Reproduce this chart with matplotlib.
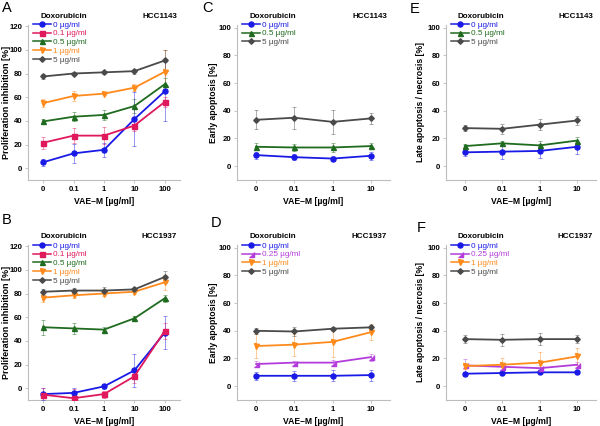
import numpy as np
import matplotlib
matplotlib.use("Agg")
import matplotlib.pyplot as plt
from matplotlib.lines import Line2D

plt.rcParams['font.family'] = ['Liberation Sans', 'DejaVu Sans']

# x categories
vae_5 = ['0', '0.1', '1', '10', '100']
vae_4 = ['0', '0.1', '1', '10']

# colours / markers per doxorubicin dose
col = {'0': '#1a1ae6', '0.1': '#e0185c', '0.5': '#1f6b1f', '0.25': '#b43cdc',
       '1': '#ff8a1c', '5': '#4a4a4a'}
tri = [(-1, -1), (1, -1), (1, 1)]
mk = {'0': 'o', '0.1': 's', '0.5': '^', '0.25': tri, '1': 'v', '5': 'D'}

# Panel A  - HCC1143 proliferation inhibition
A_mean = {'0': [5, 12.5, 15.5, 41.5, 65],
          '0.1': [21.5, 27.5, 27.5, 36, 56],
          '0.5': [39.5, 43.5, 45, 52.5, 71],
          '1': [55, 61, 63, 68, 81.5],
          '5': [77.5, 80, 81, 82, 91]}
A_err = {'0': [3, 8, 6, 23, 25],
         '0.1': [5, 6.5, 7, 5, 4],
         '0.5': [2, 4, 4, 6, 5],
         '1': [3.5, 4, 1.5, 3, 18],
         '5': [2.5, 1.5, 1, 2, 9]}

# Panel B - HCC1937 proliferation inhibition
B_mean = {'0': [-5, -4, 1.5, 15, 47],
          '0.1': [-5.5, -8.5, -5, 10, 48.5],
          '0.5': [51.5, 50.5, 49.5, 59, 76],
          '1': [76.5, 78.5, 80, 81.5, 89.5],
          '5': [81.5, 82.5, 82.5, 83.5, 94]}
B_err = {'0': [5, 4, 2, 14, 14],
         '0.1': [6, 8, 3, 6, 7],
         '0.5': [6.5, 5, 2.5, 2, 3],
         '1': [3.5, 2.5, 2, 1.5, 6.5],
         '5': [2.5, 2.5, 3, 1.5, 5]}

# Panel C - HCC1143 early apoptosis
C_mean = {'0': [8, 6.5, 5.5, 7.5],
          '0.5': [14, 13.5, 13.5, 14.5],
          '5': [33.5, 35, 32, 34.5]}
C_err = {'0': [2.5, 2, 1.5, 3],
         '0.5': [2.5, 2.5, 3, 2],
         '5': [7, 8, 8.5, 4]}

# Panel D - HCC1937 early apoptosis
D_mean = {'0': [7.5, 7.5, 7.5, 8],
          '0.25': [16, 17, 17, 21],
          '1': [29, 30, 32, 39],
          '5': [40, 39.5, 41.5, 42.5]}
D_err = {'0': [3, 3.5, 4, 4],
         '0.25': [2, 1.5, 2, 2.5],
         '1': [9, 8, 11, 6],
         '5': [2, 3.5, 1, 2]}

# Panel E - HCC1143 late apoptosis / necrosis
E_mean = {'0': [10, 10.5, 11, 14],
          '0.5': [14.5, 16.5, 15, 18.5],
          '5': [27.5, 27, 30, 33]}
E_err = {'0': [3, 5, 5, 5],
         '0.5': [1.5, 2, 3, 2.5],
         '5': [2, 3.5, 4, 3.5]}

# Panel F - HCC1937 late apoptosis / necrosis
F_mean = {'0': [9, 9.5, 10, 10],
          '0.25': [15, 14, 13, 15.5],
          '1': [14.5, 15.5, 17, 21.5],
          '5': [34, 33.5, 34, 34]}
F_err = {'0': [1.5, 1, 1, 1],
         '0.25': [4.5, 2, 2, 2],
         '1': [2, 4.5, 8, 6],
         '5': [3, 4.5, 4.5, 3]}

W, H = 600, 426
fig = plt.figure(figsize=(6, 4.26), dpi=100)


def axes_px(l, t, r, b):
    return fig.add_axes([l / W, 1 - b / H, (r - l) / W, (b - t) / H])


def panel(ax, cats, mean, err, ylabel, yticks, ylim, cell, leg_xy, ylab_size, ylab_x):
    x = np.arange(len(cats))
    handles = []
    for dose in mean:
        c = col[dose]
        ms = 3.6 if dose != '5' else 2.8
        ax.errorbar(x, mean[dose], yerr=err[dose], color=c, marker=mk[dose],
                    ms=ms, lw=1.3, ecolor=matplotlib.colors.to_rgba(c, 0.45),
                    elinewidth=0.7, capsize=1.6, capthick=0.7, zorder=3)
        handles.append(Line2D([], [], color=c, marker=mk[dose], ms=ms, lw=1.1,
                              label=dose + ' µg/ml'))
    ax.set_xlim(-0.5, len(cats) - 0.5)
    ax.set_ylim(*ylim)
    ax.set_xticks(x, cats)
    ax.set_yticks(yticks)
    for s in ['top', 'right']:
        ax.spines[s].set_visible(False)
    for s in ['left', 'bottom']:
        ax.spines[s].set_color('#bdbdbd')
        ax.spines[s].set_linewidth(0.8)
    ax.tick_params(colors='#bdbdbd', labelcolor='black', length=2, width=0.6,
                   labelsize=5.6, pad=2)
    for t in ax.get_xticklabels() + ax.get_yticklabels():
        t.set_fontweight('bold')
    ax.set_ylabel(ylabel, fontsize=ylab_size, fontweight='bold')
    ax.yaxis.set_label_coords(ylab_x, 0.5)
    ax.set_xlabel('VAE\u2013M [µg/ml]', fontsize=6.2, fontweight='bold', labelpad=3)
    ax.text(0.08, 1.055, 'Doxorubicin', transform=ax.transAxes, fontsize=5.8,
            fontweight='bold', va='center', ha='left')
    ax.text(0.98, 1.055, cell, transform=ax.transAxes, fontsize=5.8,
            fontweight='bold', va='center', ha='right')
    leg = ax.legend(handles=handles, loc='upper left',
                    bbox_to_anchor=(leg_xy[0] / W, 1 - leg_xy[1] / H),
                    bbox_transform=fig.transFigure, frameon=False, fontsize=5.9,
                    handlelength=2.2, handletextpad=0.2, labelspacing=0.12,
                    borderpad=0, borderaxespad=0)
    for h, t in zip(handles, leg.get_texts()):
        t.set_color(h.get_color())


axA = axes_px(28, 25, 180, 180)
panel(axA, vae_5, A_mean, A_err, 'Proliferation inhibition [%]',
      range(0, 121, 20), (-10, 121), 'HCC1143', (33, 21), 6.5, -0.115)
axB = axes_px(28, 245, 180, 400)
panel(axB, vae_5, B_mean, B_err, 'Proliferation inhibition [%]',
      range(0, 121, 20), (-10, 121), 'HCC1937', (33, 242), 6.5, -0.115)
axC = axes_px(237, 25, 390, 180)
panel(axC, vae_4, C_mean, C_err, 'Early apoptosis [%]',
      range(0, 101, 20), (-10, 102), 'HCC1143', (242, 21), 6.2, -0.125)
axD = axes_px(237, 245, 390, 400)
panel(axD, vae_4, D_mean, D_err, 'Early apoptosis [%]',
      range(0, 101, 20), (-10, 102), 'HCC1937', (242, 242), 6.2, -0.125)
axE = axes_px(446, 25, 596, 180)
panel(axE, vae_4, E_mean, E_err, 'Late apoptosis / necrosis [%]',
      range(0, 101, 20), (-10, 102), 'HCC1143', (451, 21), 6.2, -0.14)
axF = axes_px(446, 245, 596, 400)
panel(axF, vae_4, F_mean, F_err, 'Late apoptosis / necrosis [%]',
      range(0, 101, 20), (-10, 102), 'HCC1937', (451, 242), 6.2, -0.14)

for lab, (px, py) in zip('ABCDEF', [(2, 1), (2, 213), (202, 1), (211, 216), (410, 2), (417, 221)]):
    fig.text(px / W, 1 - py / H, lab, fontsize=10.5, va='top', ha='left')

fig.savefig('out.png', dpi=100)
